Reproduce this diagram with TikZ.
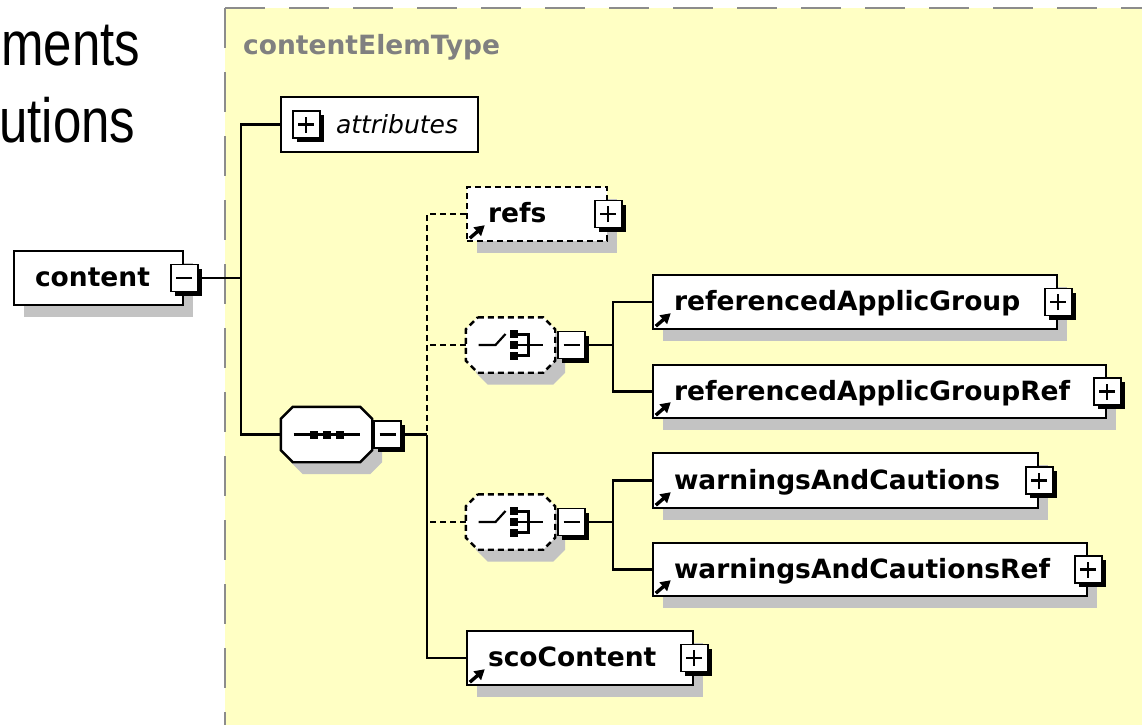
\documentclass[tikz,border=0pt]{standalone}
\usepackage{fontspec}
\usepackage{xcolor}
\usepackage{tikz}
\usetikzlibrary{calc,arrows.meta,shadows}
\newfontfamily\xsdfont{DejaVu Sans}
\newfontfamily\slidefont{Liberation Sans}
\definecolor{panel}{HTML}{FFFFC4}
\definecolor{frame}{HTML}{8C8C8C}
\definecolor{dropgray}{HTML}{C3C3C3}
\definecolor{typegray}{HTML}{808080}
\tikzset{
  boxbase/.style={draw=black, line width=2.4pt, fill=white, minimum height=54pt, inner sep=0pt},
  elem/.style={boxbase, drop shadow={shadow xshift=10pt, shadow yshift=-12pt, fill=dropgray, opacity=1}},
  optbox/.style={dash pattern=on 6pt off 4pt},
  octaframe/.style={minimum height=55pt, inner sep=0pt},
  octaline/.style={draw=black, line width=2.4pt, fill=white},
  elemtxt/.style={anchor=base west, xshift=22pt, yshift=-8.5pt, inner sep=0pt,
    font=\xsdfont\bfseries\fontsize{26.5}{30}\selectfont},
  togbase/.style={draw=black, line width=1.8pt, fill=white, minimum size=27pt, inner sep=0pt,
    drop shadow={shadow xshift=4pt, shadow yshift=-4pt, fill=black, opacity=1}},
  minusbox/.style={togbase, path picture={
    \draw[line width=2.2pt] ([xshift=-8pt]path picture bounding box.center) -- ([xshift=8pt]path picture bounding box.center);}},
  plusbox/.style={togbase, path picture={
    \draw[line width=2.2pt] ([xshift=-8pt]path picture bounding box.center) -- ([xshift=8pt]path picture bounding box.center)
      ([yshift=-8pt]path picture bounding box.center) -- ([yshift=8pt]path picture bounding box.center);}},
  link/.style={draw=black, line width=2.4pt},
  optlink/.style={link, dash pattern=on 6pt off 4pt},
  icon/.style={line width=2.2pt},
  refarrow/.style={line width=3.4pt, -{Triangle[length=10pt,width=11pt]}},
  frameline/.style={frame, line width=2.8pt, dash pattern=on 40pt off 24pt},
  slide/.style={inner sep=0pt, font=\slidefont\fontsize{50}{56}\selectfont}
}
% octagon outline round a named frame, shifted by (#2,#3)
\newcommand{\OctaPath}[3]{($(#1.north west)+(12+#2,#3)$) -- ($(#1.north east)+(-12+#2,#3)$)
  -- ($(#1.north east)+(#2,12+#3)$) -- ($(#1.south east)+(#2,-12+#3)$)
  -- ($(#1.south east)+(-12+#2,#3)$) -- ($(#1.south west)+(12+#2,#3)$)
  -- ($(#1.south west)+(#2,-12+#3)$) -- ($(#1.north west)+(#2,12+#3)$) -- cycle}
% compositor: name, centre, width, line style
\newcommand{\Compositor}[4]{%
  \node[octaframe, minimum width=#3] (#1) at #2 {};
  \fill[dropgray] \OctaPath{#1}{10}{12};
  \draw[octaline,#4] \OctaPath{#1}{0}{0};
}
% small arrow of a referenced element
\newcommand{\RefArrow}[1]{%
  \draw[refarrow] ($(#1.south west)+(4,-4)$) -- ++(15,-13);
}
% choice symbol inside a compositor
\newcommand{\ChoiceIcon}[1]{%
  \begin{scope}[shift={(#1.center)}]
    \draw[icon] (-32,0) -- (-15,0) -- (-5,-11);
    \foreach \dy in {-11,0,11}
      \fill (-1,\dy-4) rectangle (7,\dy+4);
    \draw[icon] (7,-10.5) -- (18,-10.5) -- (18,10.5) -- (7,10.5) (7,0) -- (32,0);
  \end{scope}
}
% sequence symbol inside a compositor
\newcommand{\SeqIcon}[1]{%
  \begin{scope}[shift={(#1.center)}]
    \draw[icon] (-33,0) -- (33,0);
    \foreach \dx in {-13,0,13}
      \fill (\dx-4,-4) rectangle (\dx+4,4);
  \end{scope}
}
\begin{document}
\begin{tikzpicture}[x=1pt,y=-1pt]
  \useasboundingbox (0,0) rectangle (1142,725);
  \node[slide, anchor=base west] (line1) at (1,65) {\scalebox{1.02}[1.25]{ments}};
  \node[slide, anchor=base west] (line2) at (-1,142) {\scalebox{1.02}[1.25]{utions}};
  % complex type panel
  \fill[panel] (225,8) rectangle (1142,725);
  \draw[frameline] (225,8) -- (1142,8);
  \draw[frameline] (225,8) -- (225,725);
  \node[anchor=base west, inner sep=0pt, text=typegray, font=\xsdfont\bfseries\fontsize{26.5}{30}\selectfont]
    (typename) at (243,55) {contentElemType};
  % boxes
  \node[elem, minimum width=169pt, label={[elemtxt]west:content}] (content) at (98.5,278) {};
  \node[boxbase, minimum width=197pt, minimum height=55pt,
    label={[elemtxt, xshift=34pt, font=\xsdfont\itshape\fontsize{25}{30}\selectfont]west:attributes}] (attr) at (379.5,124.5) {};
  \node[elem, optbox, minimum width=140pt, label={[elemtxt]west:refs}] (refs) at (537,214) {};
  \Compositor{seq}{(326.5,434.5)}{91pt}{}
  \Compositor{ch1}{(510.5,345)}{89pt}{optbox}
  \Compositor{ch2}{(510.5,522)}{89pt}{optbox}
  \node[elem, minimum width=404pt, label={[elemtxt]west:referencedApplicGroup}] (rag) at (855,302) {};
  \node[elem, minimum width=453pt, minimum height=53pt, label={[elemtxt]west:referencedApplicGroupRef}] (ragref) at (879.5,391.5) {};
  \node[elem, minimum width=385pt, minimum height=55pt, label={[elemtxt]west:warningsAndCautions}] (wac) at (845.5,480.5) {};
  \node[elem, minimum width=434pt, minimum height=53pt, label={[elemtxt]west:warningsAndCautionsRef}] (wacref) at (870,569.5) {};
  \node[elem, minimum width=226pt, label={[elemtxt]west:scoContent}] (sco) at (580,658) {};
  % toggles
  \node[minusbox] (contenttog) at (content.east) {};
  \node[plusbox] (attrtog) at ($(attr.west)+(26.5,0)$) {};
  \node[plusbox] (refstog) at (refs.east) {};
  \node[minusbox] (seqtog) at ($(seq.east)+(15.5,0)$) {};
  \node[minusbox] (ch1tog) at ($(ch1.east)+(16.5,0)$) {};
  \node[minusbox] (ch2tog) at ($(ch2.east)+(16.5,0)$) {};
  \node[plusbox] (ragtog) at (rag.east) {};
  \node[plusbox] (ragreftog) at (ragref.east) {};
  \node[plusbox] (wactog) at (wac.east) {};
  \node[plusbox] (wacreftog) at (wacref.east) {};
  \node[plusbox] (scotog) at (sco.east) {};
  % symbols
  \SeqIcon{seq}
  \ChoiceIcon{ch1}
  \ChoiceIcon{ch2}
  \foreach \el in {refs,rag,ragref,wac,wacref,sco}
    \RefArrow{\el}
  % connectors
  \coordinate (trunkA) at (241,0);
  \coordinate (trunkB) at (427,0);
  \coordinate (trunkC) at (613,0);
  \draw[link] (contenttog.east) -- (contenttog.east -| trunkA);
  \draw[link] (attr.west) -| (trunkA |- seq.west) -- (seq.west);
  \draw[link] (seqtog.east) -- (seqtog.east -| trunkB);
  \draw[optlink] (refs.west) -| (seqtog.east -| trunkB);
  \draw[optlink] (ch1.west) -- (ch1.west -| trunkB);
  \draw[optlink] (ch2.west) -- (ch2.west -| trunkB);
  \draw[link] (seqtog.east -| trunkB) |- (sco.west);
  \draw[link] (ch1tog.east) -- (ch1tog.east -| trunkC);
  \draw[link] (rag.west) -| (trunkC |- ragref.west) -- (ragref.west);
  \draw[link] (ch2tog.east) -- (ch2tog.east -| trunkC);
  \draw[link] (wac.west) -| (trunkC |- wacref.west) -- (wacref.west);
\end{tikzpicture}
\end{document}
